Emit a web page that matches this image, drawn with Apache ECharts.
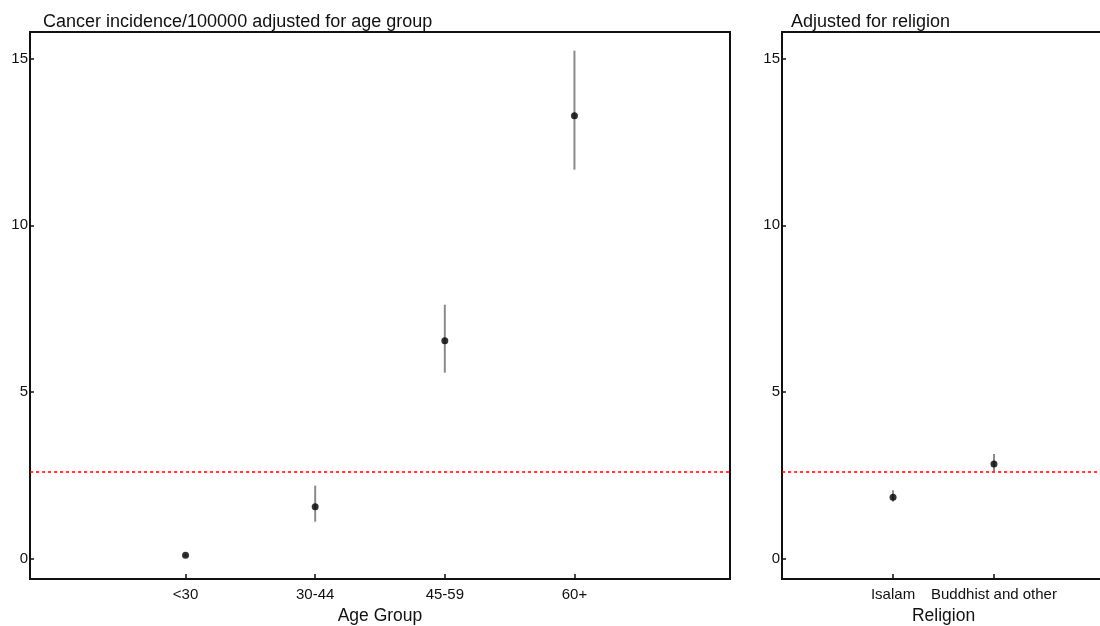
<!DOCTYPE html>
<html>
<head>
<meta charset="utf-8">
<script src="https://cdn.jsdelivr.net/npm/echarts@6/dist/echarts.min.js"></script>
<style>
html,body{margin:0;padding:0;background:#fff;}
#c{width:1100px;height:626px;}
</style>
</head>
<body>
<div id="c"></div>
<script>
// ---- data ----
var ageGroups = ['<30', '30-44', '45-59', '60+'];
var ageEst = [0.10, 1.56, 6.54, 13.29];
var ageLo  = [0.06, 1.11, 5.58, 11.67];
var ageHi  = [0.14, 2.19, 7.62, 15.24];

var religions = ['Isalam', 'Buddhist and other'];
var relEst = [1.84, 2.84];
var relLo  = [1.71, 2.62];
var relHi  = [2.05, 3.14];

var overallRate = 2.61;
var yTicks = [0, 5, 10, 15];

var FONT = "'Liberation Sans', Arial, sans-serif";

function pos(arr) { return arr.map(function (_, i) { return i + 1; }); }
function pts(est) { return est.map(function (v, i) { return [i + 1, v]; }); }
function bars(lo, hi) { return lo.map(function (v, i) { return [i + 1, v, hi[i]]; }); }

function errRender(params, api) {
  var x = api.value(0);
  var a = api.coord([x, api.value(1)]);
  var b = api.coord([x, api.value(2)]);
  return {
    type: 'line',
    shape: { x1: a[0], y1: a[1], x2: b[0], y2: b[1] },
    style: { stroke: '#8a8a8a', lineWidth: 2 }
  };
}

function xAxis(gi, cats, min, max, name) {
  return {
    type: 'value', gridIndex: gi, min: min, max: max,
    name: name, nameLocation: 'middle', nameGap: 27,
    nameTextStyle: { color: '#111', fontSize: 17.5, fontFamily: FONT },
    axisLine: { show: true, onZero: false, lineStyle: { color: '#111', width: 2 } },
    axisTick: { show: true, inside: true, length: 5, customValues: pos(cats), lineStyle: { color: '#111', width: 1.5 } },
    axisLabel: { customValues: pos(cats), margin: 8, color: '#111', fontSize: 15, fontFamily: FONT,
      formatter: function (v) { return cats[Math.round(v) - 1]; } },
    splitLine: { show: false }
  };
}
function yAxis(gi) {
  return {
    type: 'value', gridIndex: gi, min: -0.61, max: 15.8,
    axisLine: { show: true, onZero: false, lineStyle: { color: '#111', width: 2 } },
    axisTick: { show: true, inside: true, length: 4, customValues: yTicks, lineStyle: { color: '#111', width: 1.5 } },
    axisLabel: { customValues: yTicks, margin: 2, padding: [8, 0, 0, 0], color: '#111', fontSize: 15, fontFamily: FONT },
    splitLine: { show: false }
  };
}
function refLine() {
  return {
    silent: true, symbol: 'none', animation: false,
    label: { show: false },
    lineStyle: { color: '#ff0000', type: [3, 3], width: 1.6 },
    data: [{ yAxis: overallRate }]
  };
}

var chart = echarts.init(document.getElementById('c'), null, { renderer: 'canvas' });
chart.setOption({
  animation: false,
  backgroundColor: '#fff',
  title: [
    { text: 'Cancer incidence/100000 adjusted for age group', left: 38, top: 8,
      textStyle: { fontSize: 18, fontWeight: 'normal', color: '#111', fontFamily: FONT } },
    { text: 'Adjusted for religion', left: 786, top: 8,
      textStyle: { fontSize: 18, fontWeight: 'normal', color: '#111', fontFamily: FONT } }
  ],
  grid: [
    { left: 30, top: 32, width: 700, height: 547, outerBoundsMode: 'none', containLabel: false,
      show: true, borderColor: '#111', borderWidth: 2, backgroundColor: 'transparent' },
    { left: 782, top: 32, width: 323, height: 547, outerBoundsMode: 'none', containLabel: false,
      show: true, borderColor: '#111', borderWidth: 2, backgroundColor: 'transparent' }
  ],
  xAxis: [
    xAxis(0, ageGroups, -0.2, 5.2, 'Age Group'),
    xAxis(1, religions, -0.1, 3.1, 'Religion')
  ],
  yAxis: [yAxis(0), yAxis(1)],
  series: [
    { type: 'custom', xAxisIndex: 0, yAxisIndex: 0, renderItem: errRender, data: bars(ageLo, ageHi), z: 2 },
    { type: 'scatter', xAxisIndex: 0, yAxisIndex: 0, data: pts(ageEst), symbol: 'circle', symbolSize: 7,
      itemStyle: { color: '#000' }, z: 3, markLine: refLine() },
    { type: 'custom', xAxisIndex: 1, yAxisIndex: 1, renderItem: errRender, data: bars(relLo, relHi), z: 2 },
    { type: 'scatter', xAxisIndex: 1, yAxisIndex: 1, data: pts(relEst), symbol: 'circle', symbolSize: 7,
      itemStyle: { color: '#000' }, z: 3, markLine: refLine() }
  ]
});
</script>
</body>
</html>
